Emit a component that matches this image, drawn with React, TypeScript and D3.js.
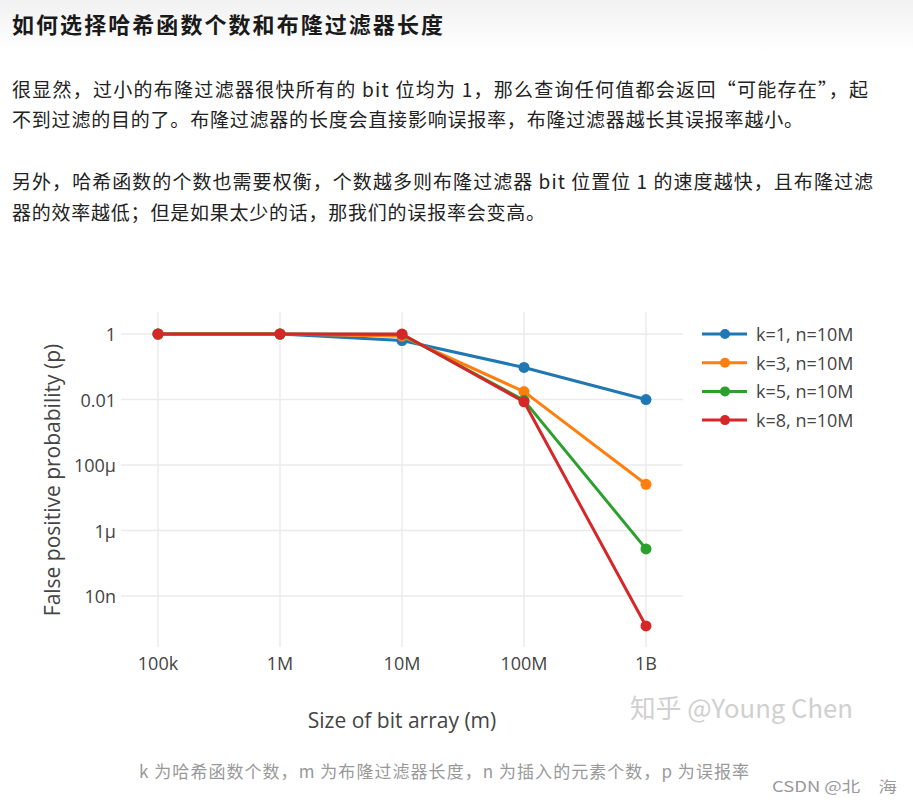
import React from "react";
import * as d3 from "d3";

const sizes = [1e5, 1e6, 1e7, 1e8, 1e9];
const xTickLabels = ["100k", "1M", "10M", "100M", "1B"];
const yTicks = [1, 1e-2, 1e-4, 1e-6, 1e-8];
const yTickLabels = ["1", "0.01", "100µ", "1µ", "10n"];

const seriesNames = ["k=1, n=10M", "k=3, n=10M", "k=5, n=10M", "k=8, n=10M"];
const seriesColors = ["#1f77b4", "#ff7f0e", "#2ca02c", "#d62728"];
const k1 = [1, 1, 0.632, 0.0952, 0.00995];
const k3 = [1, 1, 0.857, 0.0174, 2.58e-5];
const k5 = [1, 1, 0.967, 0.00943, 2.74e-7];
const k8 = [1, 1, 0.997, 0.00851, 1.22e-9];
const seriesValues = [k1, k3, k5, k8];

const title = "如何选择哈希函数个数和布隆过滤器长度";
const paragraphLines = [
  "很显然，过小的布隆过滤器很快所有的 bit 位均为 1，那么查询任何值都会返回“可能存在”，起",
  "不到过滤的目的了。布隆过滤器的长度会直接影响误报率，布隆过滤器越长其误报率越小。",
  "另外，哈希函数的个数也需要权衡，个数越多则布隆过滤器 bit 位置位 1 的速度越快，且布隆过滤",
  "器的效率越低；但是如果太少的话，那我们的误报率会变高。",
];
const xTitle = "Size of bit array (m)";
const yTitle = "False positive probability (p)";
const caption = "k 为哈希函数个数，m 为布隆过滤器长度，n 为插入的元素个数，p 为误报率";
const watermark = "知乎 @Young Chen";
const credit = "CSDN @北　海";

const CJK = "'Noto Sans CJK SC', 'Noto Sans', sans-serif";
const PLOT = "'Open Sans', 'Noto Sans', sans-serif";

export default function App() {
  const W = 913;
  const H = 802;
  const plotLeft = 121;
  const plotRight = 683;
  const plotTop = 312;
  const plotBottom = 647;

  const x = d3.scaleLog().domain([1e5, 1e9]).range([158, 646]);
  const y = d3.scaleLog().domain([1e-8, 1]).range([334 + 8 * 32.75, 334]);

  const line = d3
    .line<[number, number]>()
    .x((d) => x(d[0]))
    .y((d) => y(d[1]));

  const lineY = [88, 118, 180, 211];
  const lineEnds = [868, 803, 873, 545];

  return (
    <svg
      width={W}
      height={H}
      style={{ position: "absolute", left: 0, top: 0, background: "#fff" }}
    >
      <defs>
        <linearGradient id="hdr" x1="0" y1="0" x2="0" y2="1">
          <stop offset="0" stopColor="#f1f1f1" />
          <stop offset="1" stopColor="#ffffff" />
        </linearGradient>
      </defs>
      <rect x={0} y={0} width={W} height={H} fill="#fff" />
      <rect x={0} y={0} width={W} height={52} fill="url(#hdr)" />

      <text
        x={12}
        y={23}
        dominantBaseline="central"
        fontFamily={CJK}
        fontSize={22}
        fontWeight={700}
        fill="#1a1a1a"
        textLength={431}
        lengthAdjust="spacing"
      >
        {title}
      </text>

      {paragraphLines.map((t, i) => (
        <text
          key={i}
          x={12}
          y={lineY[i]}
          dominantBaseline="central"
          fontFamily={CJK}
          fontSize={19}
          fill="#222"
          textLength={lineEnds[i] - 12}
          lengthAdjust="spacing"
        >
          {t}
        </text>
      ))}

      {/* grid */}
      <g stroke="#ebebeb" strokeWidth={1.5}>
        {sizes.map((s, i) => (
          <line key={"vx" + i} x1={x(s)} x2={x(s)} y1={plotTop} y2={plotBottom} />
        ))}
        {yTicks.map((t, i) => (
          <line key={"hy" + i} x1={plotLeft} x2={plotRight} y1={y(t)} y2={y(t)} />
        ))}
      </g>

      {/* tick labels */}
      <g fontFamily={PLOT} fontSize={18} fill="#444">
        {yTicks.map((t, i) => (
          <text key={"yl" + i} x={116} y={y(t)} textAnchor="end" dominantBaseline="central">
            {yTickLabels[i]}
          </text>
        ))}
        {sizes.map((s, i) => (
          <text key={"xl" + i} x={x(s)} y={663} textAnchor="middle" dominantBaseline="central">
            {xTickLabels[i]}
          </text>
        ))}
      </g>

      {/* axis titles */}
      <text
        x={402}
        y={720}
        textAnchor="middle"
        dominantBaseline="central"
        fontFamily={PLOT}
        fontSize={21}
        fill="#444"
      >
        {xTitle}
      </text>
      <text
        transform={`translate(52,480) rotate(-90)`}
        textAnchor="middle"
        dominantBaseline="central"
        fontFamily={PLOT}
        fontSize={21}
        fill="#444"
      >
        {yTitle}
      </text>

      {/* series */}
      {seriesValues.map((vals, si) => {
        const pts: [number, number][] = sizes.map((s, i) => [s, vals[i]]);
        return (
          <g key={"s" + si}>
            <path
              d={line(pts) || ""}
              fill="none"
              stroke={seriesColors[si]}
              strokeWidth={3}
              strokeLinejoin="round"
            />
            {pts.map((p, i) => (
              <circle key={i} cx={x(p[0])} cy={y(p[1])} r={5.5} fill={seriesColors[si]} />
            ))}
          </g>
        );
      })}

      {/* legend */}
      {seriesNames.map((n, i) => {
        const ly = 334 + i * 28.7;
        return (
          <g key={"lg" + i}>
            <line x1={702} x2={747} y1={ly} y2={ly} stroke={seriesColors[i]} strokeWidth={3} />
            <circle cx={725} cy={ly} r={5} fill={seriesColors[i]} />
            <text
              x={756}
              y={ly}
              dominantBaseline="central"
              fontFamily={PLOT}
              fontSize={18}
              fill="#444"
            >
              {n}
            </text>
          </g>
        );
      })}

      {/* watermark */}
      <text
        x={630}
        y={706}
        dominantBaseline="central"
        fontFamily={CJK}
        fontSize={26}
        fill="#d0d0d0"
        textLength={223}
        lengthAdjust="spacingAndGlyphs"
      >
        {watermark}
      </text>

      {/* caption */}
      <text
        x={139}
        y={770}
        dominantBaseline="central"
        fontFamily={CJK}
        fontSize={17}
        fill="#999"
        textLength={610}
        lengthAdjust="spacing"
      >
        {caption}
      </text>
      <text
        x={772}
        y={785}
        dominantBaseline="central"
        fontFamily={CJK}
        fontSize={15}
        fill="#999"
        textLength={125}
        lengthAdjust="spacingAndGlyphs"
      >
        {credit}
      </text>
    </svg>
  );
}
